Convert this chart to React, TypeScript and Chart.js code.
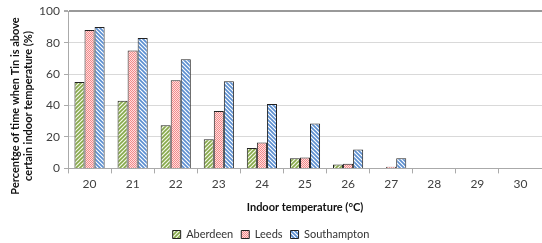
import React, { useEffect, useRef } from "react";
import { Chart, registerables } from "chart.js";

Chart.register(...registerables);

const categories = ["20", "21", "22", "23", "24", "25", "26", "27", "28", "29", "30"];
const aberdeen = [55, 43, 27.5, 18.5, 13, 6.5, 2.5, 0.3, 0, 0, 0];
const leeds = [88, 75, 56, 36.5, 16.5, 7, 3, 1, 0.2, 0, 0];
const southampton = [90, 83, 69.5, 55.5, 41, 28.5, 12, 6.5, 0.2, 0, 0];
const yTicks = [0, 20, 40, 60, 80, 100];
const yTitle = ["Percentge of time when Tin is above", "certain indoor temperature (%)"];
const xTitle = "Indoor temperature (°C)";

const FONT = "Lato, 'Open Sans', sans-serif";

function makeStripe(bg: string, fg: string, dir: 1 | -1): CanvasPattern | string {
  const s = 4;
  const c = document.createElement("canvas");
  c.width = s;
  c.height = s;
  const ctx = c.getContext("2d");
  if (!ctx) return fg;
  ctx.fillStyle = bg;
  ctx.fillRect(0, 0, s, s);
  ctx.strokeStyle = fg;
  ctx.lineWidth = 1.6;
  ctx.beginPath();
  if (dir === 1) {
    ctx.moveTo(-1, s + 1);
    ctx.lineTo(s + 1, -1);
    ctx.moveTo(-1, 1);
    ctx.lineTo(1, -1);
    ctx.moveTo(s - 1, s + 1);
    ctx.lineTo(s + 1, s - 1);
  } else {
    ctx.moveTo(-1, -1);
    ctx.lineTo(s + 1, s + 1);
    ctx.moveTo(s - 1, -1);
    ctx.lineTo(s + 1, 1);
    ctx.moveTo(-1, s - 1);
    ctx.lineTo(1, s + 1);
  }
  ctx.stroke();
  return ctx.createPattern(c, "repeat") || fg;
}

function makeCheck(bg: string, fg: string): CanvasPattern | string {
  const c = document.createElement("canvas");
  c.width = 2;
  c.height = 2;
  const ctx = c.getContext("2d");
  if (!ctx) return fg;
  ctx.fillStyle = bg;
  ctx.fillRect(0, 0, 2, 2);
  ctx.fillStyle = fg;
  ctx.fillRect(0, 0, 1, 1);
  ctx.fillRect(1, 1, 1, 1);
  return ctx.createPattern(c, "repeat") || fg;
}

const yTitlePlugin = {
  id: "yTitleCustom",
  afterDraw(chart: any) {
    const ctx = chart.ctx;
    ctx.save();
    ctx.translate(0, 106);
    ctx.rotate(-Math.PI / 2);
    ctx.fillStyle = "#111";
    ctx.font = `bold 11px ${FONT}`;
    ctx.textAlign = "center";
    ctx.textBaseline = "middle";
    ctx.fillText(yTitle[0], 0, 15);
    ctx.fillText(yTitle[1], 0, 28);
    ctx.restore();
  },
};

export default function App() {
  const ref = useRef<HTMLCanvasElement | null>(null);
  useEffect(() => {
    document.body.style.margin = "0";
    if (!ref.current) return;
    const green = makeStripe("#f4f8ea", "#86a84a", 1);
    const pink = makeCheck("#ffdede", "#f28a8a");
    const blue = makeStripe("#ffffff", "#5a8ed0", -1);
    const chart = new Chart(ref.current, {
      type: "bar",
      data: {
        labels: categories,
        datasets: [
          { label: "Aberdeen", data: aberdeen, backgroundColor: green as any, borderColor: "#222", borderWidth: 1 },
          { label: "Leeds", data: leeds, backgroundColor: pink as any, borderColor: "#222", borderWidth: 1 },
          { label: "Southampton", data: southampton, backgroundColor: blue as any, borderColor: "#222", borderWidth: 1 },
        ],
      },
      plugins: [yTitlePlugin],
      options: {
        animation: false,
        responsive: false,
        maintainAspectRatio: false,
        layout: { padding: { top: 1, right: 0, left: 0, bottom: -7 } },
        datasets: { bar: { categoryPercentage: 0.7, barPercentage: 1.0 } },
        plugins: {
          tooltip: { enabled: false },
          legend: {
            position: "bottom",
            labels: {
              boxWidth: 8,
              boxHeight: 8,
              padding: 8,
              color: "#333",
              font: { family: FONT, size: 11 },
            },
          },
        },
        scales: {
          x: {
            grid: {
              display: true,
              drawOnChartArea: false,
              drawTicks: true,
              tickLength: 5,
              color: "#aaa",
              offset: true,
            },
            border: { display: true, color: "#aaa" },
            ticks: { color: "#404040", font: { family: FONT, size: 12 }, padding: 4 },
            title: {
              display: true,
              text: xTitle,
              color: "#111",
              font: { family: FONT, size: 11, weight: "bold" },
              padding: { top: 5, bottom: 7 },
            },
          },
          y: {
            min: 0,
            max: 100,
            afterBuildTicks: (axis: any) => {
              axis.ticks = yTicks.map((v) => ({ value: v }));
            },
            afterFit: (axis: any) => {
              axis.width = 68;
            },
            grid: {
              color: (ctx: any) => (ctx.tick && ctx.tick.value === 100 ? "#999" : "#d9d9d9"),
              lineWidth: (ctx: any) => (ctx.tick && ctx.tick.value === 100 ? 2 : 1),
              drawTicks: true,
              tickLength: 4,
              tickColor: "#aaa",
            },
            border: { display: true, color: "#aaa" },
            ticks: { color: "#404040", font: { family: FONT, size: 12 }, padding: 4 },
            title: { display: false },
          },
        },
      },
    });
    return () => chart.destroy();
  }, []);
  return (
    <div style={{ position: "absolute", left: 0, top: 0, width: 542, height: 243 }}>
      <canvas ref={ref} width={542} height={243} style={{ width: 542, height: 243 }} />
    </div>
  );
}
